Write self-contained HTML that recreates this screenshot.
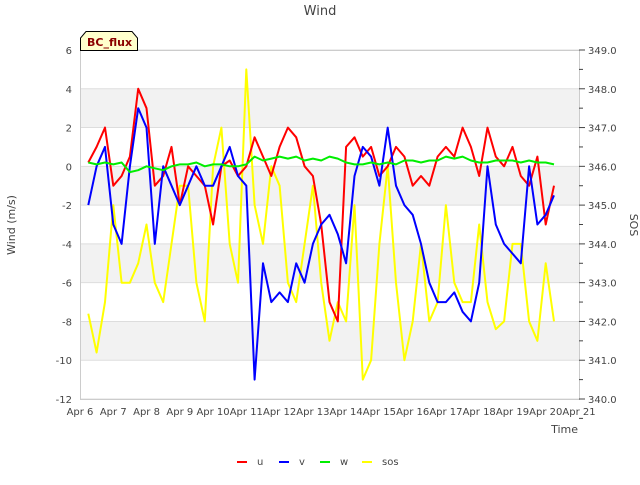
<!DOCTYPE html>
<html><head><meta charset="utf-8"><style>
body{margin:0;background:#fff;font-family:"Liberation Sans",sans-serif}
svg text{font-family:"DejaVu Sans","Liberation Sans",sans-serif}
</style></head><body>
<svg id="chart" width="640" height="480">
<rect width="640" height="480" fill="#fff"/>
<g id="bands"></g>
<g id="grid"></g>
<text x="320" y="15" text-anchor="middle" font-size="13" fill="#444">Wind</text>
<rect x="80.5" y="50.5" width="499" height="349" fill="none" stroke="#ccc"/>
<g id="yleft"></g><g id="yright"></g><g id="xaxis"></g>
<g id="series"></g>
<text x="15" y="225" transform="rotate(-90 15 225)" text-anchor="middle" font-size="11" fill="#444">Wind (m/s)</text>
<text x="630" y="225" transform="rotate(90 630 225)" text-anchor="middle" font-size="11" fill="#444">SOS</text>
<text x="578" y="433" text-anchor="end" font-size="11" fill="#444">Time</text>
<g>
<path d="M80.5 50.5 L80.5 38 L86 31.5 L132 31.5 L137.5 38 L137.5 50.5 Z" fill="#ffffcc" stroke="#000"/>
<text x="87" y="46" font-size="11" font-weight="bold" fill="#8b0000">BC_flux</text>
</g>
<g id="legend"></g>
</svg>
<script>
const days=[6.25,6.5,6.75,7,7.25,7.5,7.75,8,8.25,8.5,8.75,9,9.25,9.5,9.75,10,10.25,10.5,10.75,11,11.25,11.5,11.75,12,12.25,12.5,12.75,13,13.25,13.5,13.75,14,14.25,14.5,14.75,15,15.25,15.5,15.75,16,16.25,16.5,16.75,17,17.25,17.5,17.75,18,18.25,18.5,18.75,19,19.25,19.5,19.75,20,20.25];
const uVals=[0.2,1,2,-1,-0.5,0.5,4,3,-1,-0.5,1,-2,0,-0.5,-1,-3,0,0.3,-0.5,0,1.5,0.5,-0.5,1,2,1.5,0,-0.5,-3,-7,-8,1,1.5,0.5,1,-0.5,0,1,0.5,-1,-0.5,-1,0.5,1,0.5,2,1,-0.5,2,0.5,0,1,-0.5,-1,0.5,-3,-1];
const vVals=[-2,0,1,-3,-4,0,3,2,-4,0,-1,-2,-1,0,-1,-1,0,1,-0.5,-1,-11,-5,-7,-6.5,-7,-5,-6,-4,-3,-2.5,-3.5,-5,-0.5,1,0.5,-1,2,-1,-2,-2.5,-4,-6,-7,-7,-6.5,-7.5,-8,-6,0,-3,-4,-4.5,-5,0,-3,-2.5,-1.5];
const wVals=[0.2,0.1,0.2,0.1,0.2,-0.3,-0.2,0,-0.1,-0.2,0,0.1,0.1,0.2,0,0.1,0.1,0,0,0.1,0.5,0.3,0.4,0.5,0.4,0.5,0.3,0.4,0.3,0.5,0.4,0.2,0.1,0.1,0.2,0.1,0.2,0.1,0.3,0.3,0.2,0.3,0.3,0.5,0.4,0.5,0.3,0.2,0.2,0.3,0.3,0.3,0.2,0.3,0.2,0.2,0.1];
const sosVals=[342.2,341.2,342.5,345,343,343,343.5,344.5,343,342.5,344,345.5,345.5,343,342,346,347,344,343,348.5,345,344,346,345.5,343,342.5,344,345.5,343,341.5,342.5,342,345,340.5,341,344,346,343,341,342,344,342,342.5,345,343,342.5,342.5,344.5,342.5,341.8,342,344,344,342,341.5,343.5,342];
const leftTicks=[6,4,2,0,-2,-4,-6,-8,-10,-12];
const rightTicks=[349.0,348.0,347.0,346.0,345.0,344.0,343.0,342.0,341.0,340.0];
const xTickLabels=["Apr 6","Apr 7","Apr 8","Apr 9","Apr 10","Apr 11","Apr 12","Apr 13","Apr 14","Apr 15","Apr 16","Apr 17","Apr 18","Apr 19","Apr 20","Apr 21"];
const NS="http://www.w3.org/2000/svg";
const L=80,R=579,T=50,B=399;
const x=d=>L+(d-6)/15*(R-L);
const yl=v=>T+(6-v)/18*(B-T);
const yr=v=>T+(349-v)/9*(B-T);
function mk(tag,attrs,parent){const e=document.createElementNS(NS,tag);for(const k in attrs)e.setAttribute(k,attrs[k]);document.getElementById(parent).appendChild(e);return e;}
[[4,2],[0,-2],[-4,-6],[-8,-10]].forEach(b=>{
 const r=mk('rect',{x:L,y:yl(b[0]),width:R-L,height:yl(b[1])-yl(b[0]),fill:'#f2f2f2'},'bands');
 
 
});
leftTicks.forEach(t=>{
 const g=mk('line',{x1:L,x2:R,y1:yl(t),y2:yl(t),stroke:'#ddd'},'grid');
 
 
 const tx=mk('text',{x:72,y:yl(t)+4,'text-anchor':'end','font-size':'10',fill:'#444'},'yleft');
 tx.textContent=t;
 
 
});
rightTicks.forEach(t=>{
 mk('line',{x1:R,x2:R+6,y1:yr(t),y2:yr(t),stroke:'#444'},'yright');
 mk('line',{x1:R,x2:R+4,y1:yr(t-0.5),y2:yr(t-0.5),stroke:'#444'},'yright');
 const tx=mk('text',{x:588,y:yr(t)+4,'font-size':'10',fill:'#444'},'yright');
 tx.textContent=t.toFixed(1);
 
 
});
xTickLabels.forEach((lab,i)=>{
 const tx=mk('text',{x:x(6+i),y:415,'text-anchor':'middle','font-size':'10',fill:'#444'},'xaxis');
 tx.textContent=lab;
 
 
});
function line(vals,fy,color,name){
 const p=mk('polyline',{points:vals.map((v,i)=>x(days[i]).toFixed(1)+','+fy(v).toFixed(1)).join(' '),fill:'none',stroke:color,'stroke-width':'2','stroke-linejoin':'round'},'series');
 
 
}
line(sosVals,yr,'#ffff00','sos-line');
line(uVals,yl,'#ff0000','u-line');
line(vVals,yl,'#0000ff','v-line');
line(wVals,yl,'#00ee00','w-line');
[["u","#ff0000",237],["v","#0000ff",279],["w","#00ee00",320],["sos","#ffff00",362]].forEach(e=>{
 const g=mk('g',{},'legend');
 
 
 const ln=document.createElementNS(NS,'line');
 ln.setAttribute('x1',e[2]);ln.setAttribute('x2',e[2]+10);ln.setAttribute('y1',462);ln.setAttribute('y2',462);
 ln.setAttribute('stroke',e[1]);ln.setAttribute('stroke-width','2');g.appendChild(ln);
 const t=document.createElementNS(NS,'text');
 t.setAttribute('x',e[2]+20);t.setAttribute('y',465);t.setAttribute('font-size','10');t.setAttribute('fill','#444');
 t.textContent=e[0];g.appendChild(t);
});
</script>
</body></html>
